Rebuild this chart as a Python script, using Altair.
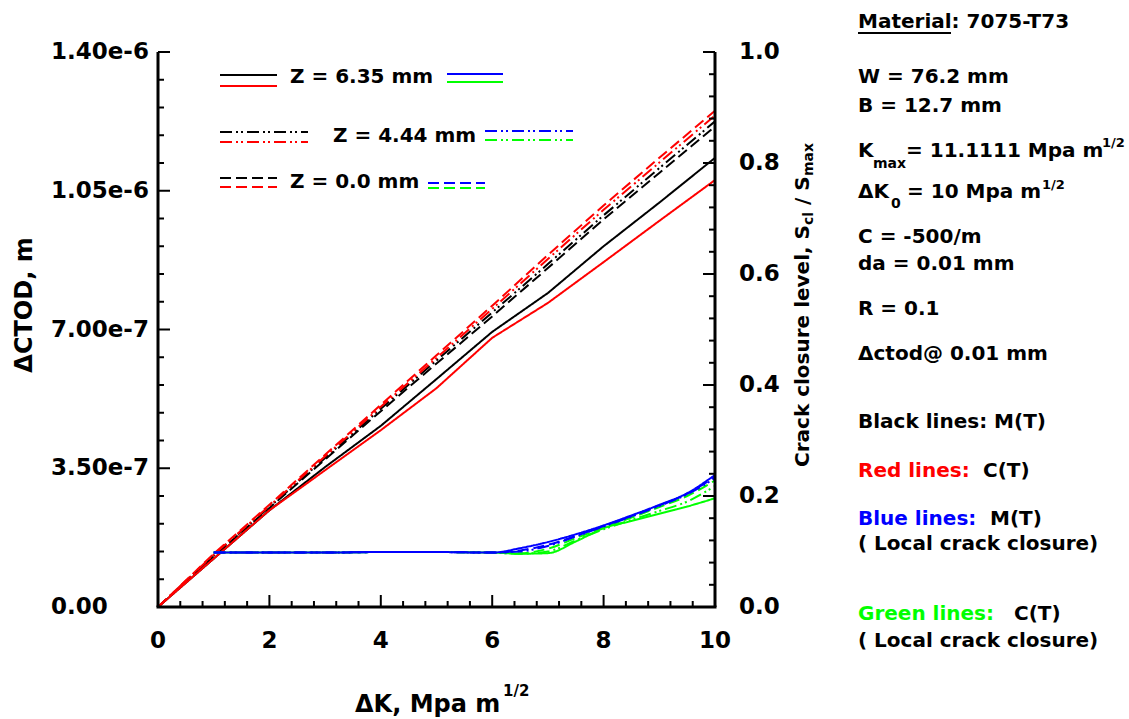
import altair as alt
import pandas as pd

FONT = "DejaVu Sans"
OX, OY = 158, 52          # plot-area origin inside the 1129x719 page
W, H = 557, 555           # plot-area size
TOTAL_W, TOTAL_H = 1129, 719

BLACK, RED, BLUE, GREEN = "#000000", "#ff0000", "#0000ff", "#00ff00"
SOLID = [1, 0]
DASHED = [11, 5]
DASHDOT = [12, 4, 2, 3, 2, 4]

# ---------------- data: delta CTOD (left axis) ----------------
dk_ctod = [0, 1, 2, 3, 4, 5, 6, 7, 8, 9, 10]
ctod_mt_z635 = [0, 1.22e-7, 2.44e-7, 3.53e-7, 4.57e-7, 5.75e-7, 6.94e-7, 7.92e-7, 9.10e-7, 1.020e-6, 1.133e-6]
ctod_ct_z635 = [0, 1.22e-7, 2.44e-7, 3.45e-7, 4.46e-7, 5.52e-7, 6.79e-7, 7.67e-7, 8.70e-7, 9.74e-7, 1.077e-6]
ctod_mt_z444 = [0, 1.30e-7, 2.52e-7, 3.76e-7, 5.00e-7, 6.22e-7, 7.43e-7, 8.65e-7, 9.88e-7, 1.107e-6, 1.225e-6]
ctod_ct_z444 = [0, 1.32e-7, 2.55e-7, 3.80e-7, 5.05e-7, 6.28e-7, 7.52e-7, 8.78e-7, 1.002e-6, 1.121e-6, 1.240e-6]
ctod_mt_z0 = [0, 1.28e-7, 2.50e-7, 3.72e-7, 4.94e-7, 6.14e-7, 7.33e-7, 8.55e-7, 9.78e-7, 1.095e-6, 1.212e-6]
ctod_ct_z0 = [0, 1.34e-7, 2.58e-7, 3.84e-7, 5.10e-7, 6.35e-7, 7.60e-7, 8.88e-7, 1.013e-6, 1.133e-6, 1.252e-6]

# ---------------- data: crack closure level (right axis) ----------------
dk_scl = [1, 2, 3, 4, 5, 6, 6.5, 7, 7.5, 8, 8.5, 9, 9.5, 10]
scl_mt_z635 = [0.098, 0.098, 0.098, 0.099, 0.099, 0.098, 0.106, 0.117, 0.131, 0.147, 0.165, 0.184, 0.205, 0.238]
scl_mt_z444 = [0.098, 0.098, 0.098, 0.099, 0.099, 0.098, 0.100, 0.110, 0.127, 0.145, 0.163, 0.182, 0.203, 0.232]
scl_mt_z0 = [0.098, 0.098, 0.098, 0.099, 0.099, 0.098, 0.102, 0.112, 0.128, 0.146, 0.164, 0.183, 0.204, 0.235]
scl_ct_z635 = [0.098, 0.098, 0.098, 0.099, 0.099, 0.098, 0.096, 0.097, 0.118, 0.142, 0.155, 0.168, 0.181, 0.196]
scl_ct_z444 = [0.098, 0.098, 0.098, 0.099, 0.099, 0.098, 0.096, 0.100, 0.120, 0.140, 0.157, 0.173, 0.190, 0.218]
scl_ct_z0 = [0.098, 0.098, 0.098, 0.099, 0.099, 0.098, 0.097, 0.105, 0.124, 0.143, 0.161, 0.180, 0.200, 0.228]

# ---------------- ticks and tick labels ----------------
x_major = [0, 2, 4, 6, 8, 10]
x_labels = ["0", "2", "4", "6", "8", "10"]
x_minor = [round(i * 0.4, 2) for i in range(26) if i % 5]
ctod_major = [0, 3.5e-7, 7.0e-7, 1.05e-6, 1.4e-6]
ctod_labels = ["0.00", "3.50e-7", "7.00e-7", "1.05e-6", "1.40e-6"]
ctod_minor = [i * 7e-8 for i in range(21) if i % 5]
scl_major = [0, 0.2, 0.4, 0.6, 0.8, 1.0]
scl_labels = ["0.0", "0.2", "0.4", "0.6", "0.8", "1.0"]
scl_minor = [round(i * 0.04, 2) for i in range(26) if i % 5]

X_SCALE = alt.Scale(domain=[0, 10], nice=False, zero=False)
Y_CTOD = alt.Scale(domain=[0, 1.4e-6], nice=False)
Y_SCL = alt.Scale(domain=[0, 1.0], nice=False)
TICK_SIZE = 23


def curve(k, vals, yscale, color, dash, interp="linear"):
    df = pd.DataFrame({"k": k, "v": vals})
    return alt.Chart(df).mark_line(color=color, strokeDash=dash, strokeWidth=2,
                                   interpolate=interp).encode(
        x=alt.X("k:Q", scale=X_SCALE, axis=None),
        y=alt.Y("v:Q", scale=yscale, axis=None),
    )


def yticks(vals, yscale, x1, x2):
    df = pd.DataFrame({"t": vals})
    return alt.Chart(df).mark_rule(color="black", strokeWidth=2).encode(
        y=alt.Y("t:Q", scale=yscale, axis=None), x=alt.value(x1), x2=alt.value(x2))


def xticks(vals, y1, y2):
    df = pd.DataFrame({"t": vals})
    return alt.Chart(df).mark_rule(color="black", strokeWidth=2).encode(
        x=alt.X("t:Q", scale=X_SCALE, axis=None), y=alt.value(y1), y2=alt.value(y2))


def ylabels(vals, labels, yscale, xpix):
    df = pd.DataFrame({"t": vals, "lab": labels})
    return alt.Chart(df).mark_text(align="left", baseline="middle", font=FONT, fontWeight="bold",
                                   fontSize=TICK_SIZE, color="black").encode(
        y=alt.Y("t:Q", scale=yscale, axis=None), x=alt.value(xpix - OX), text="lab:N")


def xlabels(vals, labels, ypix):
    df = pd.DataFrame({"t": vals, "lab": labels})
    return alt.Chart(df).mark_text(align="center", baseline="middle", font=FONT, fontWeight="bold",
                                   fontSize=TICK_SIZE, color="black").encode(
        x=alt.X("t:Q", scale=X_SCALE, axis=None), y=alt.value(ypix - OY), text="lab:N")


def txt(s, x, y, size=20, color=BLACK, align="left", angle=0, baseline="alphabetic"):
    df = pd.DataFrame({"s": [s]})
    return alt.Chart(df).mark_text(align=align, baseline=baseline, angle=angle, fontSize=size,
                                   font=FONT, fontWeight="bold", color=color).encode(
        text="s:N", x=alt.value(x - OX), y=alt.value(y - OY))


def seg(x1, x2, y, color, dash, width=2):
    df = pd.DataFrame({"a": [0]})
    return alt.Chart(df).mark_rule(color=color, strokeDash=dash, strokeWidth=width).encode(
        x=alt.value(x1 - OX), x2=alt.value(x2 - OX), y=alt.value(y - OY))


def vline(x, y1, y2, width=3):
    df = pd.DataFrame({"a": [0]})
    return alt.Chart(df).mark_rule(color="black", strokeWidth=width).encode(
        x=alt.value(x - OX), y=alt.value(y1 - OY), y2=alt.value(y2 - OY))


ctod_group = alt.layer(
    curve(dk_ctod, ctod_mt_z635, Y_CTOD, BLACK, SOLID),
    curve(dk_ctod, ctod_mt_z444, Y_CTOD, BLACK, DASHDOT),
    curve(dk_ctod, ctod_mt_z0, Y_CTOD, BLACK, DASHED),
    curve(dk_ctod, ctod_ct_z635, Y_CTOD, RED, SOLID),
    curve(dk_ctod, ctod_ct_z444, Y_CTOD, RED, DASHDOT),
    curve(dk_ctod, ctod_ct_z0, Y_CTOD, RED, DASHED),
    yticks(ctod_major, Y_CTOD, 0, 12),
    yticks(ctod_minor, Y_CTOD, 0, 6),
    ylabels(ctod_major, ctod_labels, Y_CTOD, 51),
    xticks(x_major, H, H - 12),
    xticks(x_minor, H, H - 6),
    xlabels(x_major, x_labels, 641),
)

scl_group = alt.layer(
    curve(dk_scl, scl_ct_z635, Y_SCL, GREEN, SOLID, "monotone"),
    curve(dk_scl, scl_ct_z444, Y_SCL, GREEN, DASHDOT, "monotone"),
    curve(dk_scl, scl_ct_z0, Y_SCL, GREEN, DASHED, "monotone"),
    curve(dk_scl, scl_mt_z635, Y_SCL, BLUE, SOLID, "monotone"),
    curve(dk_scl, scl_mt_z444, Y_SCL, BLUE, DASHDOT, "monotone"),
    curve(dk_scl, scl_mt_z0, Y_SCL, BLUE, DASHED, "monotone"),
    yticks(scl_major, Y_SCL, W, W - 12),
    yticks(scl_minor, Y_SCL, W, W - 6),
    ylabels(scl_major, scl_labels, Y_SCL, 739),
)

annotations = [
    # axis lines (left, right, bottom)
    vline(OX, OY, OY + H), vline(OX + W, OY, OY + H),
    seg(OX - 1.5, OX + W + 1.5, OY + H, BLACK, SOLID, width=3),
    # in-plot legend
    seg(220, 277, 75, BLACK, SOLID), seg(220, 277, 86, RED, SOLID),
    txt("Z = 6.35 mm", 290, 83),
    seg(447, 503, 74, BLUE, SOLID), seg(447, 503, 82, GREEN, SOLID),
    seg(220, 308, 132, BLACK, DASHDOT), seg(220, 308, 142, RED, DASHDOT),
    txt("Z = 4.44 mm", 333, 142),
    seg(485, 573, 131, BLUE, DASHDOT), seg(485, 573, 140, GREEN, DASHDOT),
    seg(220, 277, 178, BLACK, DASHED), seg(220, 277, 187, RED, DASHED),
    txt("Z = 0.0 mm", 290, 188),
    seg(428, 485, 183, BLUE, DASHED), seg(428, 485, 188, GREEN, DASHED),
    # axis titles
    txt("\u0394CTOD, m", 25, 305, size=24, align="center", angle=270, baseline="middle"),
    txt("\u0394K, Mpa m", 355, 712, size=24),
    txt("1/2", 503, 696, size=15),
    txt("Crack closure level, S", 803, 467, size=20, angle=270, baseline="middle"),
    txt("cl", 809, 225, size=14, angle=270, baseline="middle"),
    txt("/ S", 803, 205, size=20, angle=270, baseline="middle"),
    txt("max", 809, 176, size=14, angle=270, baseline="middle"),
    # right-hand information panel
    txt("Material: 7075-T73", 858, 28),
    seg(858, 951, 33, BLACK, SOLID),
    txt("W = 76.2 mm", 858, 83),
    txt("B = 12.7 mm", 858, 112),
    txt("K", 858, 157), txt("max", 873, 168, size=14),
    txt("= 11.1111 Mpa m", 906, 157), txt("1/2", 1102, 147, size=13),
    txt("\u0394K", 858, 198), txt("0", 891, 208, size=14),
    txt("= 10 Mpa m", 907, 198), txt("1/2", 1042, 189, size=13),
    txt("C = -500/m", 858, 243),
    txt("da = 0.01 mm", 858, 270),
    txt("R = 0.1", 858, 315),
    txt("\u0394ctod@ 0.01 mm", 858, 360),
    txt("Black lines: M(T)", 858, 428),
    txt("Red lines:", 858, 477, color=RED), txt("C(T)", 983, 477),
    txt("Blue lines:", 858, 525, color=BLUE), txt("M(T)", 990, 525),
    txt("( Local crack closure)", 858, 550),
    txt("Green lines:", 858, 620, color=GREEN), txt("C(T)", 1014, 620),
    txt("( Local crack closure)", 858, 647),
]

chart = alt.layer(ctod_group, scl_group, *annotations).resolve_scale(
    y="independent"
).properties(
    width=W,
    height=H,
    autosize=alt.AutoSizeParams(type="none"),
    padding={"left": OX, "top": OY, "right": TOTAL_W - OX - W, "bottom": TOTAL_H - OY - H},
).configure_view(stroke=None)

chart.save("out.html", embed_options={"renderer": "svg", "actions": False})
